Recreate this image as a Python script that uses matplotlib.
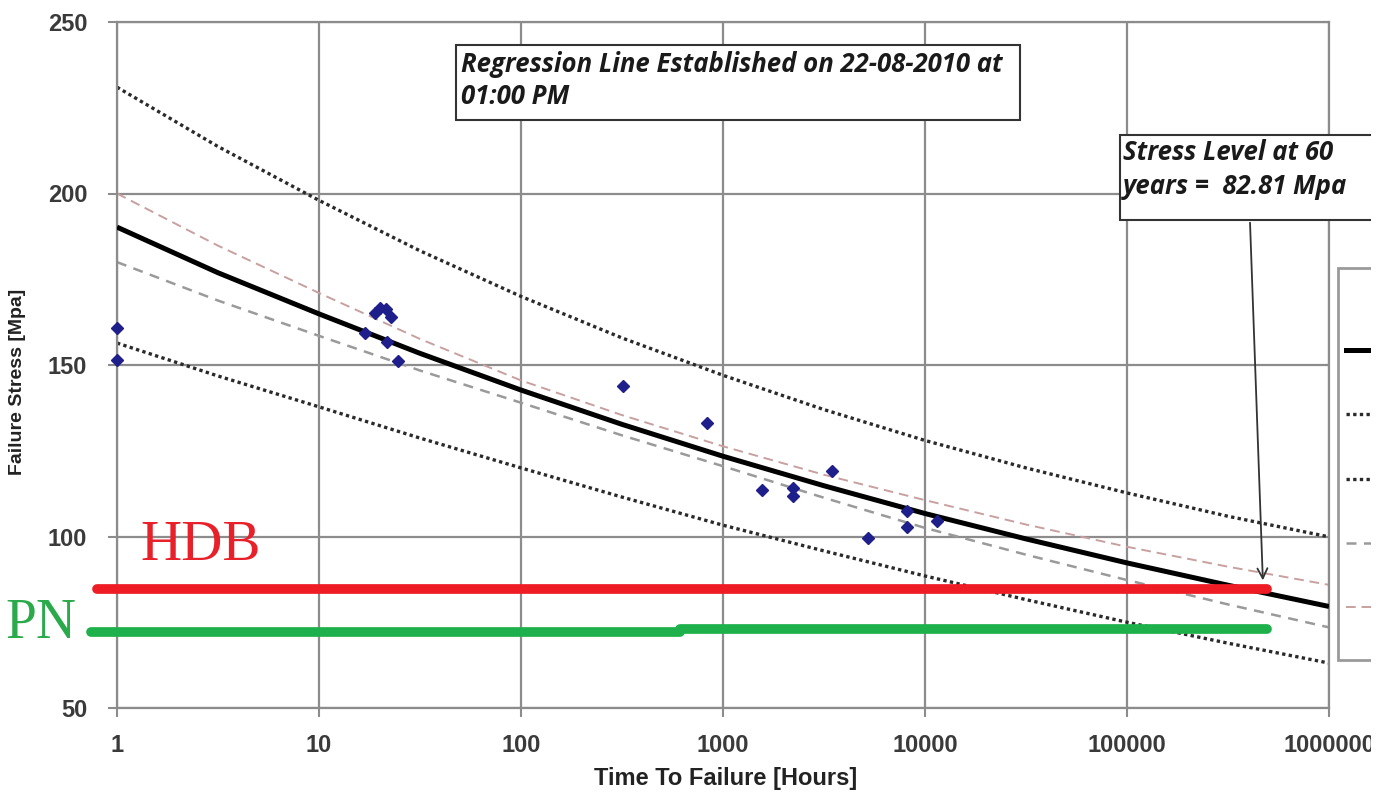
import numpy as np
import matplotlib.pyplot as plt
from matplotlib.lines import Line2D
from matplotlib.patches import Rectangle

# test points
t_pts = [1, 1, 16.9, 18.9, 20.0, 21.5, 22.7, 21.7, 24.6, 320, 833,
         1560, 2222, 2222, 3467, 5224, 8147, 8147, 11460]
s_pts = [160.8, 151.5, 159.3, 165.2, 166.6, 166.4, 164.0, 156.7, 151.2, 143.9, 133.1,
         113.6, 114.1, 111.8, 119.1, 99.6, 107.4, 102.8, 104.5]

# curves, read at every half decade
t_line = [1, 3.16, 10, 31.6, 100, 316, 1e3, 3160, 1e4, 31600, 1e5, 316000, 1e6]
regression = [190.2, 176.9, 164.9, 153.4, 142.7, 132.7, 123.4, 114.8, 106.7, 99.3, 92.3, 85.8, 79.6]
upper_pred = [231.0, 213.7, 198.0, 183.3, 170.0, 157.9, 147.0, 137.0, 128.0, 120.0, 112.7, 105.9, 99.9]
lower_pred = [156.4, 146.8, 137.8, 128.7, 120.0, 111.5, 103.3, 95.8, 88.5, 81.6, 75.0, 68.9, 63.1]
upper_conf = [200.0, 184.8, 171.0, 157.6, 145.5, 135.4, 126.3, 118.0, 110.6, 103.5, 97.0, 91.2, 85.9]
lower_conf = [180.0, 168.8, 158.5, 148.4, 139.0, 129.5, 120.5, 111.3, 102.5, 94.7, 87.3, 80.2, 73.5]

# HDB and PN levels
hdb_t = [0.796, 493000]
hdb_s = [84.7, 84.7]
pn_t1 = [0.743, 612]
pn_s1 = [72.2, 72.2]
pn_t2 = [612, 493000]
pn_s2 = [72.9, 72.9]

x_ticks = [1, 10, 100, 1000, 10000, 100000, 1000000]
x_labels = ['1', '10', '100', '1000', '10000', '100000', '1000000']
y_ticks = [50, 100, 150, 200, 250]

W, H = 1389, 794
def fx(x):
    return x / W
def fy(y):
    return 1 - y / H

dots = (0, (1.0, 1.0))
styles = [
    dict(color='black', lw=3.6, ls='-'),
    dict(color='#2a2a2a', lw=2.4, ls=dots),
    dict(color='#2a2a2a', lw=2.4, ls=dots),
    dict(color='#9a9a9a', lw=1.8, ls=(0, (4, 3))),
    dict(color='#c8a0a0', lw=1.4, ls=(0, (5, 3))),
]
curves = [regression, upper_pred, lower_pred, lower_conf, upper_conf]

fig = plt.figure(figsize=(W / 100, H / 100), dpi=100)
ax = fig.add_axes([fx(117), fy(708), fx(1329) - fx(117), fy(22) - fy(708)])

ax.set_xscale('log')
ax.set_xlim(1, 1e6)
ax.set_ylim(50, 250)
ax.set_xticks(x_ticks)
ax.set_xticklabels(x_labels)
ax.minorticks_off()
ax.set_yticks(y_ticks)
ax.grid(True, color='#8c8c8c', lw=1.6)
ax.set_axisbelow(True)
for sp in ax.spines.values():
    sp.set_color('#8c8c8c')
    sp.set_linewidth(1.6)
ax.tick_params(colors='#8c8c8c', width=1.5, length=6.5, labelcolor='#3a3a3a',
               labelsize=17)
ax.tick_params(axis='y', pad=15)
ax.tick_params(axis='x', pad=12)
for lab in ax.get_xticklabels() + ax.get_yticklabels():
    lab.set_fontweight('bold')
    lab.set_family('Liberation Sans')

for vals, st in zip(curves[1:], styles[1:]):
    ax.plot(t_line, vals, zorder=2, **st)
ax.plot(t_line, regression, zorder=3, solid_capstyle='butt', **styles[0])

ax.plot(t_pts, s_pts, ls='none', marker='D', ms=6.5, color='#1f1f8c',
        clip_on=False, zorder=4)

ax.plot(hdb_t, hdb_s, color='#ee1c25', lw=7, solid_capstyle='round',
        clip_on=False, zorder=5)
ax.plot(pn_t1, pn_s1, color='#1eb14b', lw=7, solid_capstyle='round',
        clip_on=False, zorder=5)
ax.plot(pn_t2, pn_s2, color='#1eb14b', lw=7, solid_capstyle='round',
        clip_on=False, zorder=5)

fig.text(fx(140), fy(560), 'HDB', color='#e8202a', fontsize=41,
         family='Liberation Serif', va='baseline')
fig.text(fx(5), fy(638), 'PN', color='#2aaa4a', fontsize=40,
         family='Liberation Serif', va='baseline')

fig.text(fx(18), fy(382), 'Failure Stress [Mpa]', rotation=90, ha='center',
         va='center', fontsize=14, fontweight='bold', family='Liberation Sans',
         color='#222222')
fig.text(fx(726), fy(778), 'Time To Failure [Hours]', ha='center', va='center',
         fontsize=17, fontweight='bold', family='Liberation Sans',
         color='#222222')

# note boxes
note = dict(fontsize=18.5, fontweight='bold', style='italic', family='Open Sans',
            color='#1a1a1a', va='center', ha='left')
fig.patches.append(Rectangle((fx(456), fy(120)), fx(1020) - fx(456), fy(45) - fy(120),
                             transform=fig.transFigure, fc='white', ec='#333333',
                             lw=1.5, zorder=6))
fig.text(fx(461), fy(64), 'Regression Line Established on 22-08-2010 at', zorder=7, **note)
fig.text(fx(461), fy(97), '01:00 PM', zorder=7, **note)

fig.patches.append(Rectangle((fx(1120), fy(220)), fx(1420) - fx(1120), fy(135) - fy(220),
                             transform=fig.transFigure, fc='white', ec='#333333',
                             lw=1.5, zorder=6))
fig.text(fx(1123), fy(153), 'Stress Level at 60', zorder=7, **note)
fig.text(fx(1123), fy(187), 'years =  82.81 Mpa', zorder=7, **note)

ax.annotate('', xy=(471000, 86.4), xytext=(406000, 192.3),
            arrowprops=dict(arrowstyle='->', color='#333333', lw=1.3,
                            mutation_scale=18), zorder=6)

# legend box, text runs off the picture
fig.patches.append(Rectangle((fx(1338), fy(660)), fx(1420) - fx(1338), fy(268) - fy(660),
                             transform=fig.transFigure, fc='white', ec='#9a9a9a',
                             lw=2, zorder=6))
rows = [350, 414, 479, 543, 607]
for yy, st in zip(rows, styles):
    fig.lines.append(Line2D([fx(1346), fx(1372)], [fy(yy), fy(yy)],
                            transform=fig.transFigure, zorder=7, **st))

# the original picture is cut off on the right
fig.patches.append(Rectangle((fx(1371), 0), fx(W) - fx(1371), 1,
                             transform=fig.transFigure, fc='white', ec='none',
                             zorder=20))

fig.savefig('out.png', dpi=100)
